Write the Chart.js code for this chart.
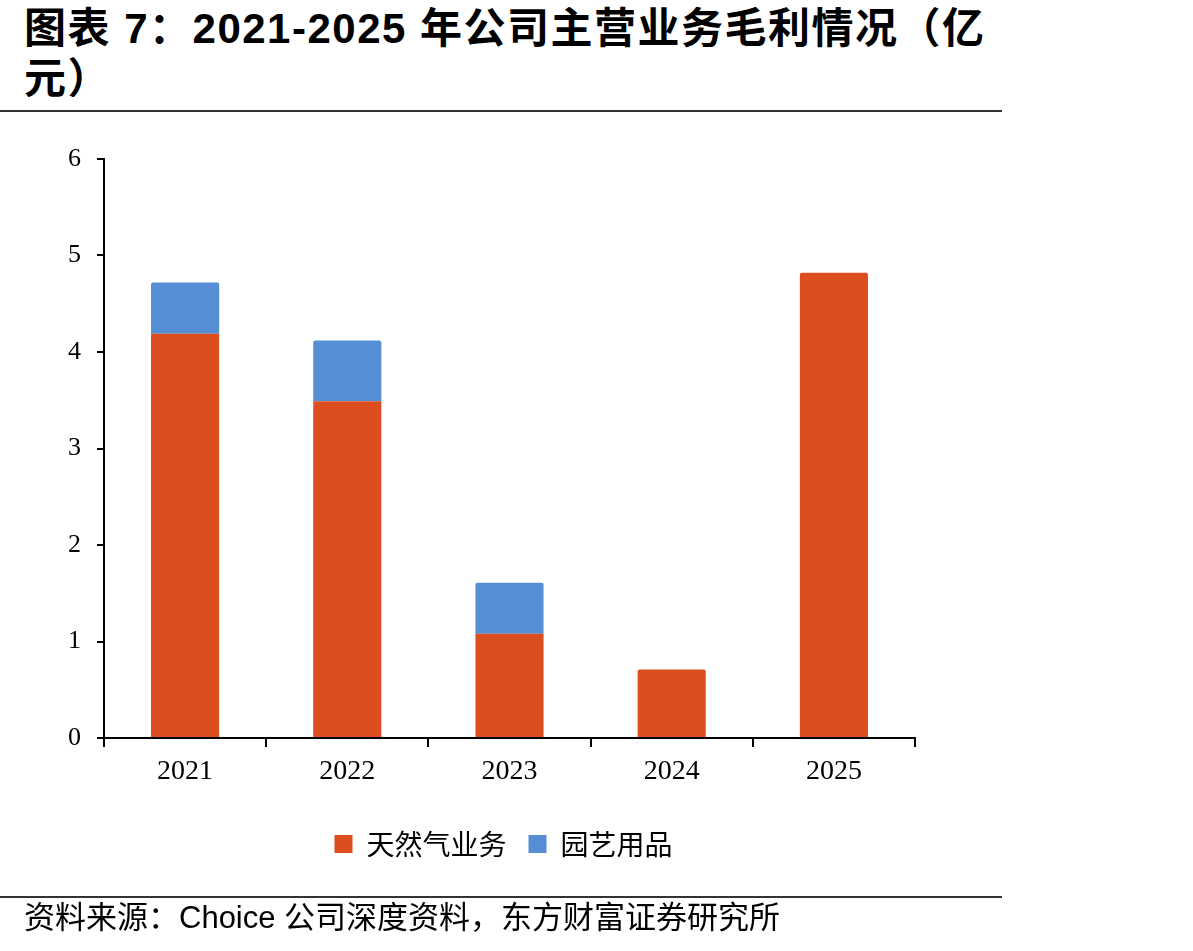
<!DOCTYPE html>
<html>
<head>
<meta charset="utf-8">
<script src="https://cdn.jsdelivr.net/npm/chart.js@4.4.1/dist/chart.umd.min.js"></script>
<style>
  html, body { margin: 0; padding: 0; background: #fff; }
  body { width: 1193px; height: 951px; position: relative; overflow: hidden; }
  #title { position: absolute; left: 24px; top: 4px; width: 1000px; font-family: "Liberation Sans", "Noto Sans CJK SC", sans-serif; font-weight: bold; font-size: 42px; line-height: 50px; color: #000; letter-spacing: 1.5px; }
  #rule1 { position: absolute; left: 0; top: 110px; width: 1002px; height: 2px; background: #333; }
  #rule2 { position: absolute; left: 0; top: 896px; width: 1002px; height: 2px; background: #333; }
  #source { position: absolute; left: 24px; top: 899px; font-family: "Liberation Sans", "Noto Sans CJK SC", sans-serif; font-size: 31px; line-height: 38px; color: #000; }
  #wrap { position: absolute; left: 0; top: 0; width: 1193px; height: 951px; }
</style>
</head>
<body>
<div id="title">图表 7：2021-2025 年公司主营业务毛利情况（亿<br>元）</div>
<div id="rule1"></div>
<div id="wrap"><canvas id="c" width="1193" height="951"></canvas></div>
<div id="rule2"></div>
<div id="source">资料来源：Choice 公司深度资料，东方财富证券研究所</div>
<script>
const categories = ["2021", "2022", "2023", "2024", "2025"];
const gasValues = [4.19, 3.49, 1.08, 0.71, 4.82];
const gardenValues = [0.53, 0.63, 0.53, 0, 0];
const seriesNames = ["天然气业务", "园艺用品"];
const yTicks = [0, 1, 2, 3, 4, 5, 6];

const legendShift = {
  id: "legendShift",
  afterLayout(chart) {
    if (chart.legend) { chart.legend.left += 46; chart.legend.right += 46; }
  }
};

new Chart(document.getElementById("c"), {
  type: "bar",
  data: {
    labels: categories,
    datasets: [
      { label: seriesNames[0], data: gasValues, backgroundColor: "#DC4E1F", borderWidth: 0, borderRadius: 2, borderSkipped: "bottom", categoryPercentage: 1, barPercentage: 0.42 },
      { label: seriesNames[1], data: gardenValues, backgroundColor: "#558ED5", borderWidth: 0, borderRadius: 2, borderSkipped: "bottom", categoryPercentage: 1, barPercentage: 0.42 }
    ]
  },
  plugins: [legendShift],
  options: {
    responsive: false,
    animation: false,
    layout: { padding: { left: 0, right: 278, top: 159, bottom: 83 } },
    plugins: {
      tooltip: { enabled: false },
      legend: {
        position: "bottom",
        labels: {
          boxWidth: 18, boxHeight: 18, padding: 22,
          color: "#000",
          font: { family: "'Noto Sans CJK SC', sans-serif", size: 28 }
        }
      }
    },
    scales: {
      x: {
        stacked: true,
        offset: true,
        border: { display: true, color: "#000", width: 2 },
        grid: { display: true, offset: true, drawOnChartArea: false, drawTicks: true, tickLength: 9, color: "#000", lineWidth: 2 },
        ticks: { color: "#000", padding: 8, font: { family: "'Liberation Serif', serif", size: 28 } },
        afterFit: s => { s.height = 70; }
      },
      y: {
        stacked: true,
        min: 0, max: 6,
        afterBuildTicks: s => { s.ticks = yTicks.map(v => ({ value: v })); },
        border: { display: true, color: "#000", width: 2 },
        grid: { display: true, drawOnChartArea: false, drawTicks: true, tickLength: 7, color: "#000", lineWidth: 2 },
        ticks: { color: "#000", padding: 16, font: { family: "'Liberation Serif', serif", size: 26 } },
        afterFit: s => { s.width = 104; }
      }
    }
  }
});
</script>
</body>
</html>
